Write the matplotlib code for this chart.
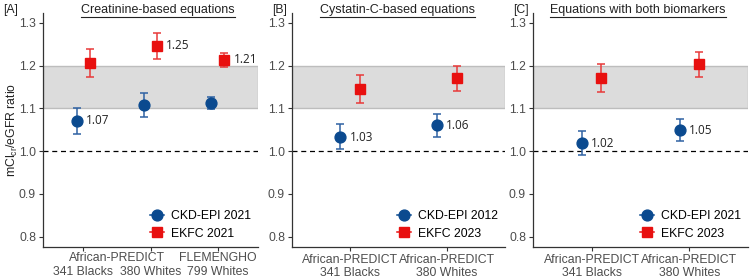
import matplotlib
matplotlib.use("Agg")
import matplotlib.pyplot as plt
from matplotlib.lines import Line2D
import numpy as np

plt.rcParams['font.family'] = ['Liberation Sans', 'DejaVu Sans']

# ---- data ----
panel_letters = ["[A]", "[B]", "[C]"]
panel_titles = ["Creatinine-based equations", "Cystatin-C-based equations",
                "Equations with both biomarkers"]
series_names = [("CKD-EPI 2021", "EKFC 2021"),
                ("CKD-EPI 2012", "EKFC 2023"),
                ("CKD-EPI 2021", "EKFC 2023")]
cohort_lines = [["341 Blacks", "380 Whites", "799 Whites"],
                ["341 Blacks", "380 Whites"],
                ["341 Blacks", "380 Whites"]]
study_names = [["African-PREDICT", "African-PREDICT", "FLEMENGHO"],
               ["African-PREDICT", "African-PREDICT"],
               ["African-PREDICT", "African-PREDICT"]]

blue_mean = [[1.071, 1.107, 1.112], [1.033, 1.061], [1.018, 1.049]]
blue_lo = [[1.041, 1.080, 1.098], [1.004, 1.033], [0.991, 1.024]]
blue_hi = [[1.100, 1.135, 1.127], [1.063, 1.088], [1.047, 1.075]]
red_mean = [[1.206, 1.247, 1.214], [1.145, 1.170], [1.172, 1.203]]
red_lo = [[1.173, 1.215, 1.197], [1.112, 1.140], [1.139, 1.173]]
red_hi = [[1.239, 1.276, 1.229], [1.178, 1.200], [1.203, 1.233]]
blue_labels = [["1.07", "", ""], ["1.03", "1.06"], ["1.02", "1.05"]]
red_labels = [["", "1.25", "1.21"], ["", ""], ["", ""]]

band = (1.1, 1.2)
yticks = [0.8, 0.9, 1.0, 1.1, 1.2, 1.3]

BLUE = "#0B4A8F"
BLUE_E = "#2F62A3"
RED = "#E8100F"
RED_E = "#E83A3A"
GRAY_TXT = "#4D4D4D"
FS = 8.8

W, H = 750, 278
fig = plt.figure(figsize=(7.5, 2.78), dpi=100)

lefts = [43, 292, 533]
widths = [215, 213, 215]
top_px, bot_px = 13, 247
title_x = [158, 398, 638]
letter_x = [3, 272, 513]

dodge = 0.1
for i in range(3):
    ax = fig.add_axes([lefts[i] / W, 1 - bot_px / H, widths[i] / W, (bot_px - top_px) / H])
    n = len(blue_mean[i])
    x = np.arange(1, n + 1)
    ax.set_xlim(0.4, n + 0.6)
    ax.set_ylim(0.776, 1.323)
    ax.axhspan(band[0], band[1], facecolor="#DCDCDC", edgecolor="#BDBDBD", lw=1.0, zorder=0)
    ax.axhline(1.0, color="black", lw=0.9, ls=(0, (4, 3)), zorder=1)

    bm = np.array(blue_mean[i]); rm = np.array(red_mean[i])
    ax.errorbar(x - dodge, bm, yerr=[bm - np.array(blue_lo[i]), np.array(blue_hi[i]) - bm],
                fmt="none", ecolor=BLUE_E, elinewidth=1.1, capsize=3.2, capthick=1.1, zorder=2)
    ax.plot(x - dodge, bm, "o", color=BLUE, ms=7.8, zorder=3)
    ax.errorbar(x + dodge, rm, yerr=[rm - np.array(red_lo[i]), np.array(red_hi[i]) - rm],
                fmt="none", ecolor=RED_E, elinewidth=1.1, capsize=3.2, capthick=1.1, zorder=2)
    ax.plot(x + dodge, rm, "s", color=RED, ms=6.8, zorder=3)

    for j in range(n):
        if blue_labels[i][j]:
            ax.annotate(blue_labels[i][j], (x[j] - dodge, bm[j]), xytext=(6.5, 0),
                        textcoords="offset points", va="center", ha="left",
                        fontsize=8.5, family="Open Sans", color="#222222")
        if red_labels[i][j]:
            ax.annotate(red_labels[i][j], (x[j] + dodge, rm[j]), xytext=(6.5, 0),
                        textcoords="offset points", va="center", ha="left",
                        fontsize=8.5, family="Open Sans", color="#222222")

    for s in ["top", "right"]:
        ax.spines[s].set_visible(False)
    for s in ["left", "bottom"]:
        ax.spines[s].set_color("#333333")
        ax.spines[s].set_linewidth(0.9)
    ax.set_yticks(yticks)
    ax.set_yticklabels([f"{v:.1f}" for v in yticks])
    ax.tick_params(axis="both", colors="#333333", labelcolor=GRAY_TXT, labelsize=FS,
                   length=3, width=0.8, pad=2)
    ax.set_xticks(x)
    if i == 0:
        ax.set_xticklabels([""] * n)
        xt = ax.get_xaxis_transform()
        y1 = -0.021
        y2 = -0.082
        ax.text(1.5, y1, study_names[i][0], transform=xt, ha="center", va="top",
                fontsize=FS, color=GRAY_TXT)
        ax.text(3, y1, study_names[i][2], transform=xt, ha="center", va="top",
                fontsize=FS, color=GRAY_TXT)
        for j in range(n):
            ax.text(x[j], y2, cohort_lines[i][j], transform=xt, ha="center", va="top",
                    fontsize=FS, color=GRAY_TXT)
        ax.set_ylabel(r"mCl$_{\mathregular{cr}}$/eGFR ratio", fontsize=FS, color="#222222")
        ax.yaxis.set_label_coords(-0.105, 0.5)
    else:
        ax.set_xticklabels([s + "\n" + c for s, c in zip(study_names[i], cohort_lines[i])],
                           linespacing=1.08)

    handles = [Line2D([], [], color=BLUE, marker="o", ms=7.8, lw=1.1),
               Line2D([], [], color=RED, marker="s", ms=6.8, lw=1.1)]
    ax.legend(handles, list(series_names[i]), loc="lower right", frameon=False,
              fontsize=FS, handlelength=1.15, handletextpad=0.55, labelspacing=0.45,
              borderaxespad=0.2, bbox_to_anchor=(1.0, 0.0))

    fig.text(letter_x[i] / W, 1 - 10 / H, panel_letters[i], ha="left", va="center",
             fontsize=FS, color="#222222")
    fig.text(title_x[i] / W, 1 - 10 / H, panel_titles[i], ha="center", va="center",
             fontsize=9, color="#222222")

fig.canvas.draw()
r = fig.canvas.get_renderer()
for t in fig.texts:
    if t.get_text() in panel_titles:
        bb = t.get_window_extent(r)
        yline = bb.y0 - 0.5
        fig.add_artist(Line2D([bb.x0 / W, bb.x1 / W], [yline / H, yline / H],
                              transform=fig.transFigure, color="#222222", lw=0.8))

fig.savefig("out.png", dpi=100)
